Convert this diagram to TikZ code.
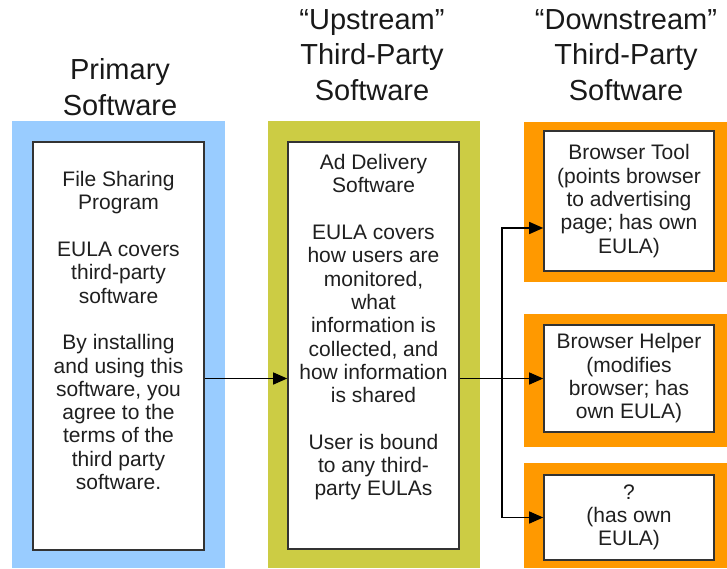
\documentclass[tikz,border=0pt]{standalone}
\usepackage{fontspec}
\setmainfont{Liberation Sans}
\usetikzlibrary{calc}
\usetikzlibrary{arrows.meta}
\usetikzlibrary{positioning}
\definecolor{bandblue}{HTML}{99CCFF}
\definecolor{bandgreen}{HTML}{CCCC44}
\definecolor{bandorange}{HTML}{FF9900}
\definecolor{boxline}{HTML}{333333}
\tikzset{
 head/.style={align=center,inner sep=0pt,font=\fontsize{29}{35.5}\selectfont,text=black!90},
 body/.style={align=center,inner sep=0pt,font=\fontsize{21}{23.3}\selectfont,text=black!88},
 whitebox/.style={draw=boxline,line width=1.6pt,fill=white,inner sep=0pt},
 link/.style={line width=1.4pt,-{Triangle[length=14pt,width=12pt]}}
}
\begin{document}
\begin{tikzpicture}[x=1pt,y=-1pt]
\useasboundingbox (0,0) rectangle (727,568);
% column titles
\node[head] (primary) at (120,87) {Primary\\Software};
\node[head] (upstream) at (372,55) {“Upstream”\\Third-Party\\Software};
\node[head] (downstream) at (626,55) {“Downstream”\\Third-Party\\Software};
% coloured bands
\fill[bandblue] (12,121) rectangle (225,568);
\fill[bandgreen] (268,121) rectangle (480,568);
\fill[bandorange] (524,122) rectangle (727,282);
\fill[bandorange] (524,314) rectangle (727,447);
\fill[bandorange] (524,463) rectangle (727,568);
% white boxes
\node[whitebox,minimum width=171pt,minimum height=408pt] (file) at (118.5,346) {};
\node[whitebox,minimum width=171pt,minimum height=407pt] (adware) at (373.5,345.5) {};
\node[whitebox,minimum width=170pt,minimum height=140pt] (tool) at (629,201) {};
\node[whitebox,minimum width=170pt,minimum height=107pt] (helper) at (629,378.5) {};
\node[whitebox,minimum width=170pt,minimum height=85pt] (unknown) at (629,517.5) {};
% box texts
\node[body,below=30pt of file.north] (fileText) {File Sharing\\Program\\[23.3pt]EULA covers\\third-party\\software\\[23.3pt]By installing\\and using this\\software, you\\agree to the\\terms of the\\third party\\software.};
\node[body,below=13pt of adware.north] (adwareText) {Ad Delivery\\Software\\[23.3pt]EULA covers\\how users are\\monitored,\\what\\information is\\collected, and\\how information\\is shared\\[23.3pt]User is bound\\to any third-\\party EULAs};
\node[body] (toolText) at (tool) {Browser Tool\\(points browser\\to advertising\\page; has own\\EULA)};
\node[body] (helperText) at (helper) {Browser Helper\\(modifies\\browser; has\\own EULA)};
\node[body] (unknownText) at (unknown) {?\\(has own\\EULA)};
% connectors
\coordinate (split) at (502,378.5);
\draw[link] (file.east |- helper.west) -- (adware.west |- helper.west);
\draw[link] (adware.east |- helper.west) -- (helper.west);
\draw[link] (split) |- ([yshift=-27pt]tool.west);
\draw[link] (split) |- (unknown.west);
\end{tikzpicture}
\end{document}
